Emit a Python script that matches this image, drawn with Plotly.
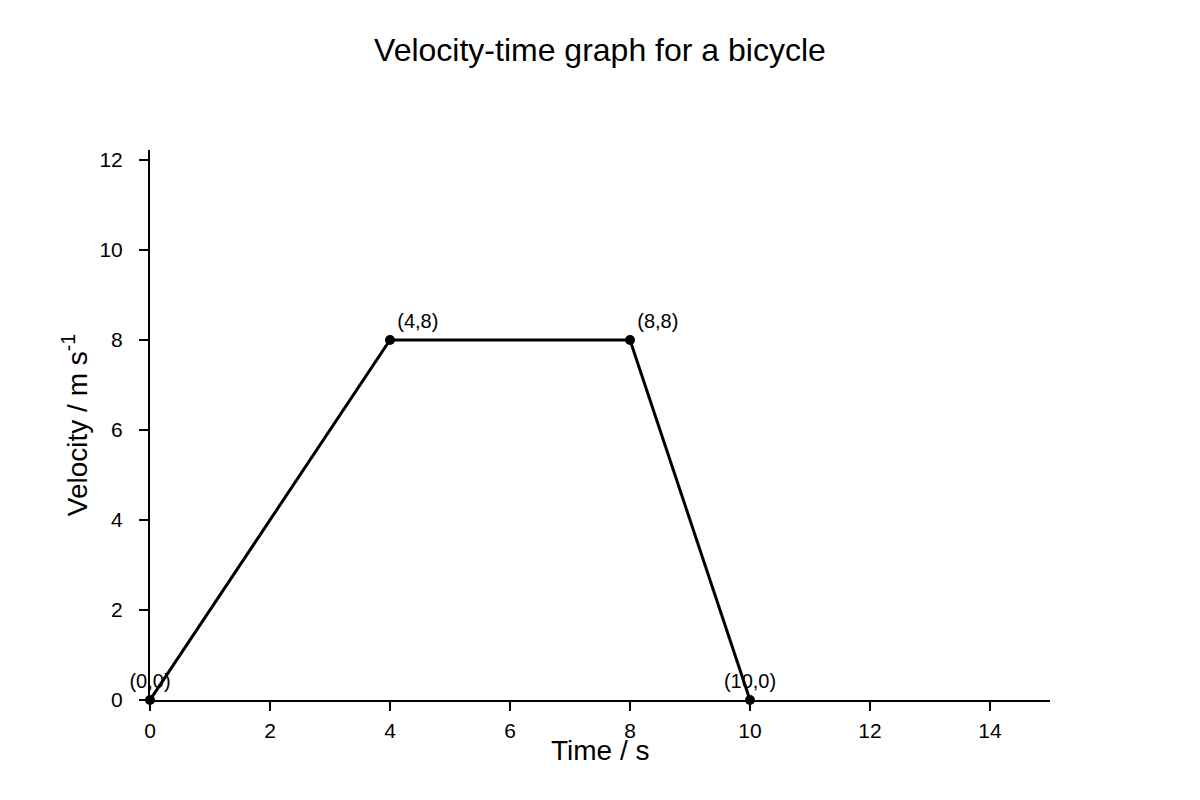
import plotly.graph_objects as go

# velocity-time data for the bicycle
time_s = [0, 4, 8, 10]
velocity = [0, 8, 8, 0]
point_labels = ["(0,0)", "(4,8)", "(8,8)", "(10,0)"]
label_pos = ["top center", "top right", "top right", "top center"]

x_ticks = [0, 2, 4, 6, 8, 10, 12, 14]
y_ticks = [0, 2, 4, 6, 8, 10, 12]

fig = go.Figure()
fig.add_trace(go.Scatter(
    x=time_s, y=velocity,
    mode="lines+markers+text",
    line=dict(color="black", width=3),
    marker=dict(color="black", size=10),
    text=point_labels,
    textposition=label_pos,
    textfont=dict(size=20, color="black"),
    cliponaxis=False,
    showlegend=False,
))

# page body has an 8px margin, so margins are shifted to line up with the reference
fig.update_layout(
    title=dict(text="Velocity-time graph for a bicycle", x=0.4933, xanchor="center",
               y=0.9475, yanchor="middle", font=dict(size=32, color="black")),
    width=1200, height=800,
    margin=dict(l=142, r=158, t=142, b=108),
    plot_bgcolor="white", paper_bgcolor="white",
    font=dict(family="Liberation Sans, Arial, sans-serif", color="black"),
)
# x title placed as annotation so it sits tight under the tick labels
fig.add_annotation(
    text="Time / s", xref="paper", yref="paper", x=0.5, y=0,
    xanchor="center", yanchor="middle", yshift=-50,
    showarrow=False, font=dict(size=28, color="black"),
)
fig.update_xaxes(
    range=[0, 15], tickvals=x_ticks, showgrid=False, zeroline=False,
    showline=True, linecolor="black", linewidth=2,
    ticks="outside", ticklen=9, tickwidth=2, tickcolor="black",
    tickfont=dict(size=21), ticklabelstandoff=2,
)
fig.update_yaxes(
    range=[0, 12.22], tickvals=y_ticks, showgrid=False, zeroline=False,
    showline=True, linecolor="black", linewidth=2,
    ticks="outside", ticklen=9, tickwidth=2, tickcolor="black",
    tickfont=dict(size=21), ticklabelstandoff=12,
    title=dict(text="Velocity / m s<sup>-1</sup>", font=dict(size=28), standoff=4),
)

fig.write_html("out.html")
